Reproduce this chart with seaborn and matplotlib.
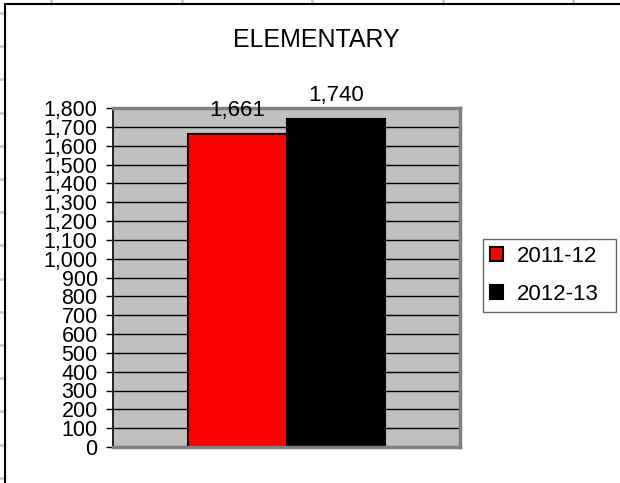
import matplotlib
matplotlib.use("Agg")
import matplotlib.pyplot as plt
import seaborn as sns
import pandas as pd
from matplotlib.lines import Line2D

# chart data
years = ["2011-12", "2012-13"]
counts = [1661, 1740]
bar_colors = ["#FF0000", "#000000"]
chart_title = "ELEMENTARY"
y_ticks = list(range(0, 1900, 100))

df = pd.DataFrame({"group": [chart_title] * len(years), "year": years, "count": counts})

sns.set_style("white")
plt.rcParams["font.family"] = ["Liberation Sans", "DejaVu Sans"]
plt.rcParams["text.color"] = "black"
plt.rcParams["ytick.color"] = "black"
plt.rcParams["ytick.labelcolor"] = "black"

W, H = 620, 483
fig = plt.figure(figsize=(W / 100, H / 100), dpi=100)
ax = fig.add_axes([113 / W, 36 / H, 347 / W, 339 / H])

sns.barplot(data=df, x="group", y="count", hue="year", palette=bar_colors,
            saturation=1, width=0.57, edgecolor="black", linewidth=1.5, ax=ax)

ax.set_facecolor("#C0C0C0")
ax.set_ylim(0, 1800)
ax.set_yticks(y_ticks)
ax.set_yticklabels([f"{v:,}" for v in y_ticks], fontsize=15.5, color="black")
ax.yaxis.grid(True, color="black", linewidth=1)
ax.set_axisbelow(True)
ax.set_xticks([])
ax.set_xlabel("")
ax.set_ylabel("")
ax.tick_params(axis="y", direction="out", length=5, width=1, color="black", pad=6, left=True)

for side in ["top", "right", "bottom"]:
    ax.spines[side].set_color("#808080")
    ax.spines[side].set_linewidth(2.5)
ax.spines["left"].set_color("black")
ax.spines["left"].set_linewidth(1.2)

# value labels over the bars
for cont in ax.containers:
    for bar in cont:
        h = bar.get_height()
        ax.annotate(f"{h:,.0f}", (bar.get_x() + bar.get_width() / 2, h),
                    xytext=(0, 13), textcoords="offset points",
                    ha="center", va="baseline", fontsize=16, color="black")

handles, labels = ax.get_legend_handles_labels()
leg = ax.legend(handles, labels, loc="upper left", mode="expand",
                bbox_to_anchor=(483 / W, 1 - 313 / H, 133 / W, 74 / H),
                bbox_transform=fig.transFigure,
                frameon=True, fancybox=False, edgecolor="#404040", fontsize=16,
                handlelength=0.6, handleheight=0.6, handletextpad=0.6,
                labelspacing=0.75, borderpad=0.32, borderaxespad=0)
leg.get_frame().set_linewidth(1)
for t in leg.get_texts():
    t.set_color("black")

fig.text(316 / W, 1 - 47 / H, chart_title, fontsize=18, ha="center", va="baseline",
         color="black")

# spreadsheet cell lines and chart frame
for gx in [51, 182, 312, 443, 573]:
    fig.add_artist(Line2D([gx / W, gx / W], [1 - 4 / H, 1], color="#C8C8C8", lw=2,
                          transform=fig.transFigure))
gy = 13
while gy < H:
    fig.add_artist(Line2D([0, 5 / W], [1 - gy / H, 1 - gy / H], color="#C8C8C8", lw=2,
                          transform=fig.transFigure))
    gy += 33.2
fig.add_artist(Line2D([5 / W, 5 / W], [0, 1 - 4 / H], color="black", lw=1.5,
                      transform=fig.transFigure))
fig.add_artist(Line2D([5 / W, 1], [1 - 4 / H, 1 - 4 / H], color="black", lw=1.5,
                      transform=fig.transFigure))

fig.savefig("out.png", dpi=100)
